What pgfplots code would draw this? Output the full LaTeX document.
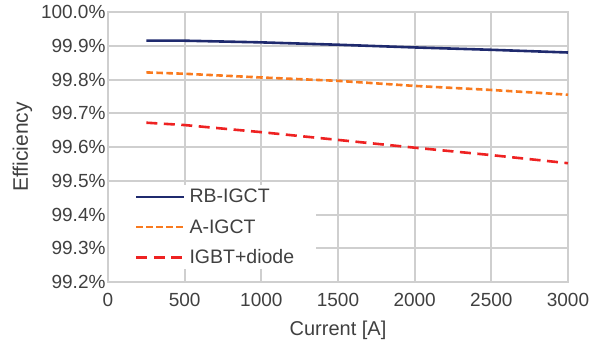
\documentclass[border=0pt]{standalone}
\usepackage{fontspec}
\setmainfont{Liberation Sans}
\usepackage{pgfplots}
\pgfplotsset{compat=1.18}
\definecolor{navy}{HTML}{1F2A6E}
\definecolor{orng}{HTML}{F97A1E}
\definecolor{redd}{HTML}{EE2222}
\definecolor{txt}{HTML}{404040}
\definecolor{grd}{HTML}{CFCFCF}
\begin{document}
\begin{tikzpicture}
\begin{axis}[
  at={(0,0)}, anchor=south west,
  scale only axis, width=460pt, height=270pt,
  xmin=0, xmax=3000, ymin=99.2, ymax=100.0,
  xtick={0,500,1000,1500,2000,2500,3000},
  ytick={99.2,99.3,99.4,99.5,99.6,99.7,99.8,99.9,100.0},
  yticklabel={\pgfmathprintnumber[fixed,fixed zerofill,precision=1]{\tick}\%},
  /pgf/number format/assume math mode=true,
  scaled x ticks=false,
  xticklabel style={/pgf/number format/1000 sep={}},
  grid=major,
  grid style={draw=grd, line width=2pt},
  axis line style={draw=grd, line width=2pt},
  major tick length=0pt,
  ticklabel style={font=\fontsize{19}{22}\selectfont, text=txt},
  yticklabel style={xshift=1pt},
  xticklabel style={yshift=-8pt},
  xlabel={Current [A]}, ylabel={Efficiency},
  xlabel style={font=\fontsize{20}{24}\selectfont, text=txt, yshift=-7pt},
  ylabel style={font=\fontsize{21}{24}\selectfont, text=txt, yshift=2pt},
  legend style={at={(axis cs:5,99.2374)}, anchor=south west, draw=none, fill=white,
    font=\fontsize{19.5}{22}\selectfont, text=txt, row sep=11pt,
    inner xsep=20pt, inner ysep=2pt},
  legend cell align=left,
  legend image code/.code={\path (-6pt,0pt); \draw[#1] (0pt,0pt) -- (48pt,0pt); \path (50pt,0pt);},
]
\addplot[navy, line width=2.6pt] coordinates {
 (250,99.915) (500,99.915) (1000,99.910) (1500,99.903) (2000,99.895) (2500,99.888) (3000,99.880)};
\addlegendentry{RB-IGCT}
\addplot[orng, line width=2.6pt, dash pattern=on 6.5pt off 3.5pt] coordinates {
 (250,99.821) (500,99.817) (1000,99.806) (1500,99.796) (2000,99.781) (2500,99.769) (3000,99.755)};
\addlegendentry{A-IGCT}
\addplot[redd, line width=2.6pt, dash pattern=on 11pt off 6.5pt] coordinates {
 (250,99.672) (500,99.665) (1000,99.644) (1500,99.621) (2000,99.598) (2500,99.576) (3000,99.552)};
\addlegendentry{IGBT+diode}
\end{axis}
\path (-108pt,-60pt) rectangle (486pt,282pt);
\end{tikzpicture}
\end{document}
